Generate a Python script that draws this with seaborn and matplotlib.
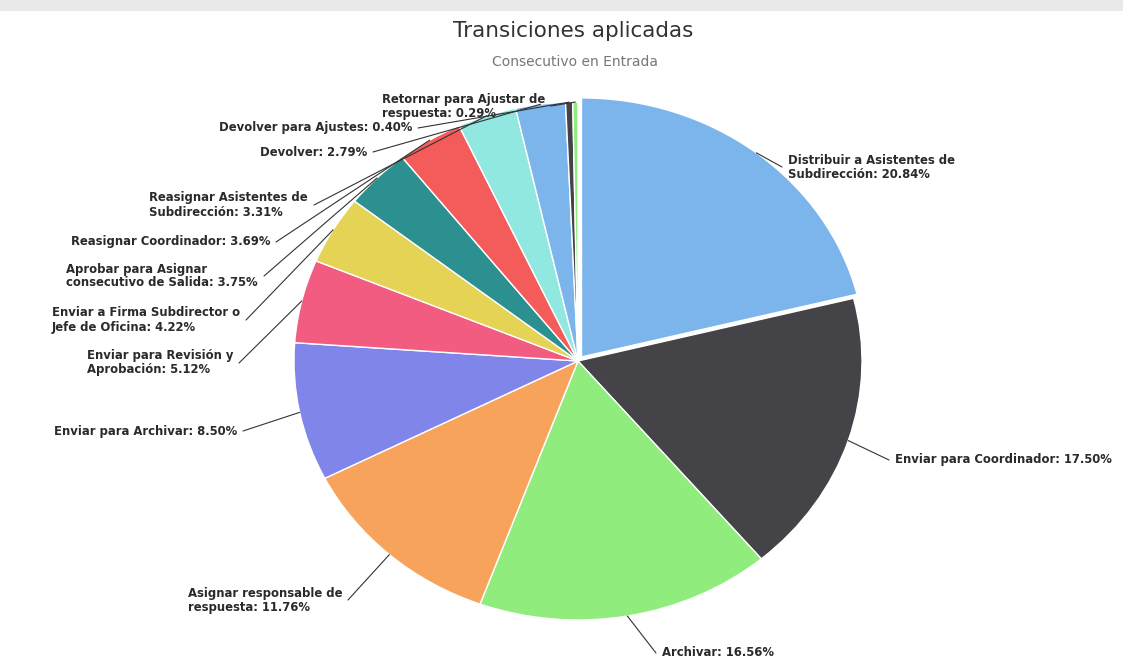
import numpy as np
import matplotlib
matplotlib.use('Agg')
import matplotlib.pyplot as plt
from matplotlib.patches import Rectangle
import seaborn as sns

# ---------------- data ----------------
categories = [
    "Distribuir a Asistentes de\nSubdirección",
    "Enviar para Coordinador",
    "Archivar",
    "Asignar responsable de\nrespuesta",
    "Enviar para Archivar",
    "Enviar para Revisión y\nAprobación",
    "Enviar a Firma Subdirector o\nJefe de Oficina",
    "Aprobar para Asignar\nconsecutivo de Salida",
    "Reasignar Coordinador",
    "Reasignar Asistentes de\nSubdirección",
    "Devolver",
    "Devolver para Ajustes",
    "Retornar para Ajustar de\nrespuesta",
]
values = [20.84, 17.50, 16.56, 11.76, 8.50, 5.12, 4.22, 3.75, 3.69, 3.31, 2.79, 0.40, 0.29]
colors = ['#7cb5ec', '#434348', '#90ed7d', '#f7a35c', '#8085e9', '#f15c80',
          '#e4d354', '#2b908f', '#f45b5b', '#91e8e1', '#7cb5ec', '#434348', '#90ed7d']
title = "Transiciones aplicadas"
subtitle = "Consecutivo en Entrada"

# label layout in pixels (x, y from top, alignment)
label_layout = [
    (788, 167, 'left'),
    (895, 460, 'left'),
    (662, 653, 'left'),
    (342, 600, 'right'),
    (237, 431, 'right'),
    (233, 363, 'right'),
    (240, 320, 'right'),
    (258, 276, 'right'),
    (270, 242, 'right'),
    (308, 205, 'right'),
    (367, 152, 'right'),
    (412, 128, 'right'),
    (545, 106, 'right'),
]

sns.set_theme(style='white')
plt.rcParams['font.family'] = ['DejaVu Sans', 'Liberation Sans']

W, H = 1123, 659
fig = plt.figure(figsize=(W / 100, H / 100), dpi=100)
fig.patch.set_facecolor('white')
ax = fig.add_axes([0, 0, 1, 1])

cx, cy = 578, 361
rx, ry = 284, 259

explode = [0.02] + [0] * (len(values) - 1)
wedges, _ = ax.pie(values, colors=colors, startangle=90, counterclock=False,
                   explode=explode,
                   wedgeprops=dict(edgecolor='white', linewidth=1.0))
ax.set_aspect('auto')
ax.set_xlim(-cx / rx, (W - cx) / rx)
ax.set_ylim(-(H - cy) / ry, cy / ry)
ax.axis('off')


def px2data(x, y):
    return ((x - cx) / rx, (cy - y) / ry)


for w, cat, v, (lx, ly, ha) in zip(wedges, categories, values, label_layout):
    mid = np.deg2rad((w.theta1 + w.theta2) / 2)
    c = w.center
    ex, ey = c[0] + np.cos(mid) * 1.0, c[1] + np.sin(mid) * 1.0
    tx, ty = px2data(lx, ly)
    gap = 6 / rx
    lx_end = tx - gap if ha == 'left' else tx + gap
    ax.plot([ex, lx_end], [ey, ty], color='#333333', lw=0.8, solid_capstyle='round')
    ax.text(tx, ty, f"{cat}: {v:.2f}%", ha=ha, va='center', multialignment='left',
            fontsize=8.4, fontweight='bold', color='#2a2a2a', linespacing=1.1)

fig.text(573 / W, 1 - 31 / H, title, ha='center', va='center', fontsize=15.5,
         color='#333333')
fig.text(575 / W, 1 - 62 / H, subtitle, ha='center', va='center', fontsize=10,
         color='#777777')

fig.patches.append(Rectangle((0, 1 - 11 / H), 1, 11 / H, transform=fig.transFigure,
                             facecolor='#e9e9e9', edgecolor='none', zorder=0))

fig.savefig('out.png', dpi=100, facecolor='white')
